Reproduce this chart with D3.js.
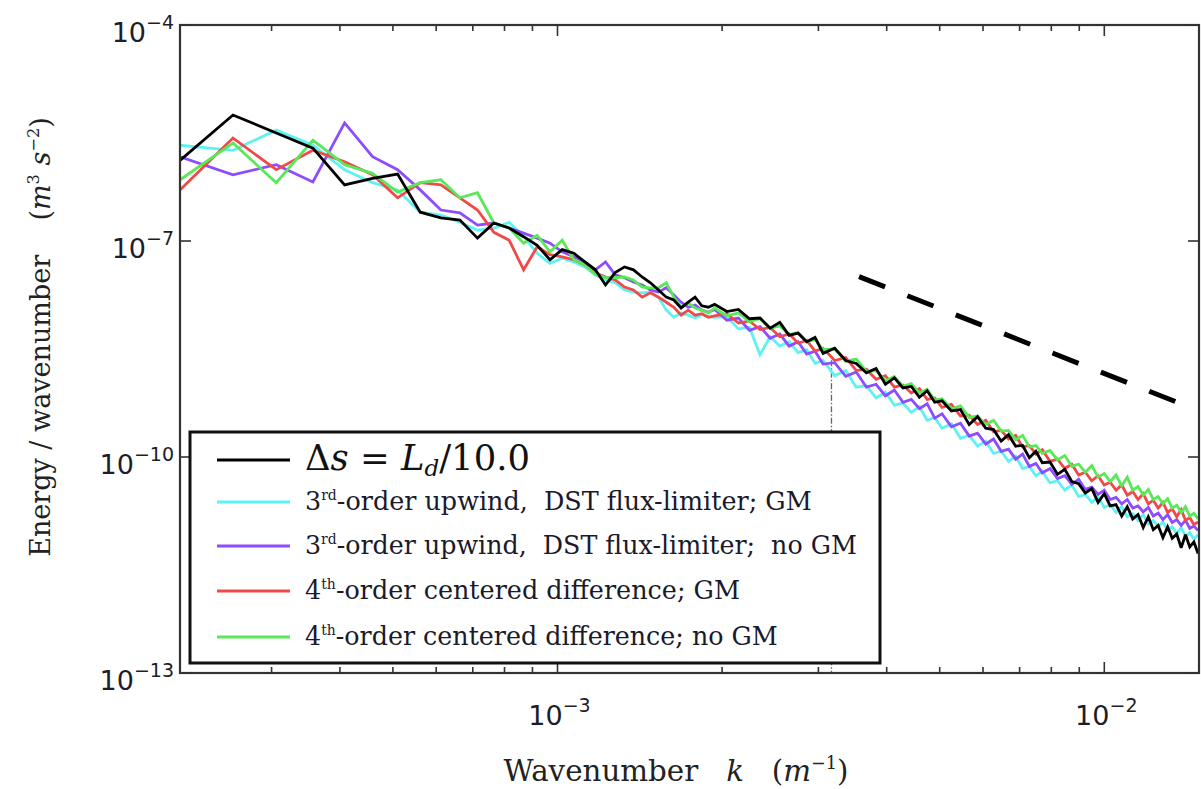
<!DOCTYPE html>
<html>
<head>
<meta charset="utf-8">
<script src="https://cdn.jsdelivr.net/npm/d3@7"></script>
<style>
  body { margin: 0; background: #fff; }
  svg { display: block; }
  text { white-space: pre; }
</style>
</head>
<body>
<svg id="chart" width="1201" height="789"></svg>
<script>
// ---- data -------------------------------------------------------------
// Wavenumber spacing of the spectral modes (1/m); k = mode * modeStep
const modeStep = 5.1e-5;
const modes = [
  4,5,6,7,8,9,10,11,12,13,14,15,16,17,18,19,20,21,22,23,24,25,26,27,28,29,30,31,32,33,34,35,36,37,
  38,40,42,44,46,48,50,52,54,56,58,60,
  63,66,69,72,75,78,81,84,87,90,93,96,99,
  103,107,111,115,119,123,127,131,135,139,143,147,151,
  156,161,166,171,176,181,186,191,196,201,206,211,216,221,226,231,236,241,246,251,256,261,266,271,276,281,286,291
];

// log10 of energy per wavenumber (m^3 s^-2) for each run
const logEReference = [
  -5.88,-5.25,-5.50,-5.71,-6.22,-6.13,-6.07,-6.60,-6.68,-6.71,-6.96,-6.75,-6.82,-6.94,-7.06,-7.26,-7.12,-7.17,-7.29,-7.40,-7.61,-7.44,-7.36,-7.40,-7.50,-7.58,-7.68,-7.78,-7.82,-7.93,-7.85,-7.78,-7.90,-7.92,
  -7.88,-7.98,-7.95,-8.08,-8.07,-8.21,-8.13,-8.31,-8.28,-8.40,-8.34,-8.56,
  -8.49,-8.66,-8.70,-8.83,-8.77,-8.99,-8.90,-9.04,-9.02,-9.17,-9.08,-9.24,-9.22,
  -9.36,-9.34,-9.55,-9.44,-9.60,-9.62,-9.78,-9.69,-9.85,-9.84,-10.01,-9.92,-10.08,
  -10.07,-10.24,-10.17,-10.34,-10.37,-10.50,-10.44,-10.63,-10.51,-10.68,-10.66,-10.82,-10.69,-10.86,-10.80,-10.98,-10.83,-11.01,-10.95,-11.12,-10.97,-11.13,-11.07,-11.26,-11.08,-11.25,-11.18,-11.34
];
const logEUpwindGM = [
  -5.67,-5.74,-5.46,-5.67,-6.01,-6.19,-6.29,-6.60,-6.64,-6.74,-6.85,-6.82,-6.74,-6.94,-7.17,-7.31,-7.24,-7.29,-7.36,-7.47,-7.54,-7.58,-7.68,-7.71,-7.72,-7.71,-7.78,-7.96,-8.06,-8.00,-8.03,-8.07,-8.02,-8.05,
  -8.06,-8.05,-8.22,-8.20,-8.58,-8.33,-8.46,-8.40,-8.55,-8.51,-8.70,-8.66,
  -8.87,-8.80,-9.03,-9.01,-9.18,-9.10,-9.28,-9.25,-9.38,-9.30,-9.49,-9.45,-9.60,
  -9.54,-9.74,-9.70,-9.85,-9.78,-9.95,-9.92,-10.06,-9.99,-10.16,-10.13,-10.26,-10.20,
  -10.36,-10.33,-10.46,-10.39,-10.55,-10.52,-10.63,-10.55,-10.70,-10.66,-10.77,-10.69,-10.83,-10.79,-10.88,-10.80,-10.93,-10.88,-10.97,-10.90,-11.02,-10.97,-11.06,-10.98,-11.10,-11.05,-11.14,-11.08
];
const logEUpwindNoGM = [
  -5.83,-6.08,-5.94,-6.18,-5.36,-5.83,-6.01,-6.29,-6.57,-6.61,-6.78,-6.75,-6.82,-6.89,-6.96,-7.03,-7.15,-7.22,-7.29,-7.40,-7.29,-7.47,-7.51,-7.57,-7.61,-7.68,-7.71,-7.65,-7.75,-7.85,-7.92,-7.89,-7.96,-7.99,
  -7.95,-8.10,-8.07,-8.24,-8.19,-8.35,-8.29,-8.46,-8.40,-8.57,-8.53,-8.71,
  -8.69,-8.88,-8.82,-9.03,-8.99,-9.15,-9.07,-9.24,-9.20,-9.33,-9.26,-9.46,-9.40,
  -9.58,-9.53,-9.71,-9.67,-9.82,-9.75,-9.92,-9.89,-10.03,-9.96,-10.13,-10.09,-10.22,
  -10.16,-10.30,-10.26,-10.38,-10.31,-10.45,-10.42,-10.52,-10.46,-10.59,-10.56,-10.65,-10.59,-10.71,-10.68,-10.76,-10.70,-10.82,-10.78,-10.87,-10.80,-10.91,-10.87,-10.95,-10.88,-10.99,-10.96,-11.02
];
const logECenteredGM = [
  -6.29,-5.57,-6.01,-5.74,-5.90,-6.08,-6.40,-6.19,-6.22,-6.40,-6.57,-6.88,-6.99,-7.40,-7.08,-7.19,-7.22,-7.26,-7.33,-7.44,-7.50,-7.54,-7.64,-7.68,-7.78,-7.72,-7.78,-7.85,-7.92,-8.03,-7.96,-8.03,-8.01,-8.06,
  -8.04,-8.01,-8.14,-8.11,-8.23,-8.20,-8.33,-8.29,-8.42,-8.38,-8.53,-8.49,
  -8.66,-8.62,-8.80,-8.78,-8.92,-8.87,-9.03,-9.00,-9.11,-9.05,-9.20,-9.18,-9.31,
  -9.27,-9.43,-9.42,-9.55,-9.49,-9.65,-9.63,-9.75,-9.70,-9.86,-9.84,-9.96,-9.90,
  -10.06,-10.03,-10.16,-10.10,-10.25,-10.21,-10.33,-10.26,-10.39,-10.35,-10.46,-10.39,-10.53,-10.48,-10.59,-10.51,-10.65,-10.60,-10.71,-10.63,-10.77,-10.72,-10.83,-10.73,-10.88,-10.84,-10.94,-10.90
];
const logECenteredNoGM = [
  -6.15,-5.64,-6.19,-5.60,-5.94,-6.06,-6.32,-6.19,-6.15,-6.40,-6.33,-6.75,-6.82,-7.03,-6.92,-7.15,-6.99,-7.26,-7.33,-7.47,-7.51,-7.51,-7.50,-7.54,-7.64,-7.65,-7.65,-7.58,-7.78,-7.92,-7.86,-7.93,-7.96,-8.00,
  -7.93,-8.04,-8.00,-8.12,-8.08,-8.21,-8.18,-8.30,-8.27,-8.40,-8.37,-8.51,
  -8.50,-8.67,-8.64,-8.81,-8.80,-8.94,-8.88,-9.02,-8.98,-9.11,-9.06,-9.21,-9.19,
  -9.33,-9.29,-9.45,-9.43,-9.55,-9.49,-9.64,-9.63,-9.76,-9.70,-9.86,-9.84,-9.95,
  -9.91,-10.04,-9.98,-10.13,-10.10,-10.21,-10.12,-10.28,-10.23,-10.34,-10.25,-10.40,-10.28,-10.46,-10.41,-10.53,-10.45,-10.59,-10.55,-10.65,-10.58,-10.71,-10.67,-10.77,-10.69,-10.82,-10.78,-10.86
];

// k^-3 reference slope (endpoints)
const slopeK = [3.56e-3, 1.38e-2];
const slopeE = [3.2e-8, 5.5e-10];

// deformation-radius wavenumber marker
const markerK = 3.17e-3;
const markerE = 2.2e-9;

// axis extents and ticks
const kDomain = [2.04e-4, 1.49e-2];
const eDomain = [1e-13, 1e-4];
const xMajorTicks = [1e-3, 1e-2];
const xMinorTicks = [3e-4,4e-4,5e-4,6e-4,7e-4,8e-4,9e-4,2e-3,3e-3,4e-3,5e-3,6e-3,7e-3,8e-3,9e-3];
const yMajorTicks = [1e-13, 1e-10, 1e-7, 1e-4];
const xTickExponents = ["-3", "-2"];
const yTickExponents = ["-13", "-10", "-7", "-4"];

// ---- drawing ----------------------------------------------------------
const series = [
  { name: "upwindGM",     values: logEUpwindGM,     color: "#5ff2f2" },
  { name: "upwindNoGM",   values: logEUpwindNoGM,   color: "#8c4cff" },
  { name: "centeredGM",   values: logECenteredGM,   color: "#f24848" },
  { name: "centeredNoGM", values: logECenteredNoGM, color: "#58e858" },
  { name: "reference",    values: logEReference,    color: "#000000" }
];

const svg = d3.select("#chart");
const plot = { left: 180, right: 1199, top: 25, bottom: 673 };

const x = d3.scaleLog().domain(kDomain).range([plot.left, plot.right]);
const y = d3.scaleLog().domain(eDomain).range([plot.bottom, plot.top]);

svg.append("rect").attr("width", 1201).attr("height", 789).attr("fill", "#fff");

svg.append("defs").append("clipPath").attr("id", "plotClip")
  .append("rect")
  .attr("x", plot.left).attr("y", plot.top)
  .attr("width", plot.right - plot.left).attr("height", plot.bottom - plot.top);

const lines = svg.append("g").attr("clip-path", "url(#plotClip)");

// marker line (mostly hidden behind the legend box)
lines.append("line")
  .attr("x1", x(markerK)).attr("x2", x(markerK))
  .attr("y1", y(markerE)).attr("y2", y(eDomain[0]))
  .attr("stroke", "#666").attr("stroke-width", 1.3)
  .attr("stroke-dasharray", "6,2,1.5,2");

const lineGen = d3.line()
  .x((d, i) => x(modes[i] * modeStep))
  .y(d => y(Math.pow(10, d)));

series.forEach(s => {
  lines.append("path")
    .datum(s.values)
    .attr("d", lineGen)
    .attr("fill", "none")
    .attr("stroke", s.color)
    .attr("stroke-width", 2.8)
    .attr("stroke-linejoin", "miter")
    .attr("stroke-miterlimit", 3);
});

// k^-3 slope guide
lines.append("line")
  .attr("x1", x(slopeK[0])).attr("y1", y(slopeE[0]))
  .attr("x2", x(slopeK[1])).attr("y2", y(slopeE[1]))
  .attr("stroke", "#000").attr("stroke-width", 5)
  .attr("stroke-dasharray", "28,24");

// frame
svg.append("rect")
  .attr("x", plot.left).attr("y", plot.top)
  .attr("width", plot.right - plot.left).attr("height", plot.bottom - plot.top)
  .attr("fill", "none").attr("stroke", "#333").attr("stroke-width", 2.2);

// inward ticks on all four sides
const ticks = svg.append("g").attr("stroke", "#333").attr("stroke-width", 1.6);
function xTick(v, len) {
  ticks.append("line").attr("x1", x(v)).attr("x2", x(v)).attr("y1", plot.bottom).attr("y2", plot.bottom - len);
  ticks.append("line").attr("x1", x(v)).attr("x2", x(v)).attr("y1", plot.top).attr("y2", plot.top + len);
}
xMajorTicks.forEach(v => xTick(v, 11));
xMinorTicks.forEach(v => xTick(v, 6));
yMajorTicks.forEach(v => {
  ticks.append("line").attr("x1", plot.left).attr("x2", plot.left + 11).attr("y1", y(v)).attr("y2", y(v));
  ticks.append("line").attr("x1", plot.right).attr("x2", plot.right - 11).attr("y1", y(v)).attr("y2", y(v));
});

// tick labels: 10 with superscript exponent
const tickFont = "'DejaVu Sans', sans-serif";
function powerLabel(sel, exp) {
  sel.append("tspan").text("10");
  sel.append("tspan").attr("dy", -13).attr("font-size", 19).text(exp.replace("-", "\u2212"));
}
xMajorTicks.forEach((v, i) => {
  const t = svg.append("text")
    .attr("x", x(v) + 2).attr("y", 725)
    .attr("text-anchor", "middle")
    .attr("font-family", tickFont).attr("font-size", 27).attr("fill", "#1c1c2a");
  powerLabel(t, xTickExponents[i]);
});
yMajorTicks.forEach((v, i) => {
  const t = svg.append("text")
    .attr("x", 174).attr("y", y(v) + 17)
    .attr("text-anchor", "end")
    .attr("font-family", tickFont).attr("font-size", 27).attr("fill", "#1c1c2a");
  powerLabel(t, yTickExponents[i]);
});

// scale a text element's font so that it spans the given width
function fitWidth(sel, target) {
  const fs = parseFloat(sel.attr("font-size"));
  const w = sel.node().getComputedTextLength();
  sel.attr("font-size", (fs * target / w).toFixed(2));
}
// raised / lowered small text; shifts are given in units of the parent font
function sup(sel, txt, scale, raise) {
  sel.append("tspan").attr("dy", (-raise / scale).toFixed(3) + "em")
    .attr("font-size", scale + "em").text(txt);
}
function back(sel, txt, raise, style) {
  const t = sel.append("tspan").attr("dy", raise + "em").text(txt);
  if (style) t.attr("font-style", style);
}

// axis titles
const titleFont = "'DejaVu Serif', serif";
const xTitle = svg.append("text")
  .attr("x", 676).attr("y", 781).attr("text-anchor", "middle")
  .attr("font-family", titleFont).attr("font-size", 25).attr("fill", "#222");
xTitle.append("tspan").text("Wavenumber   ");
xTitle.append("tspan").attr("font-style", "italic").text("k");
xTitle.append("tspan").text("   (");
xTitle.append("tspan").attr("font-style", "italic").text("m");
sup(xTitle, "\u22121", 0.6, 0.4);
back(xTitle, ")", 0.4);
fitWidth(xTitle, 345);

const yTitle = svg.append("text")
  .attr("transform", "translate(50,337) rotate(-90)")
  .attr("text-anchor", "middle")
  .attr("font-family", titleFont).attr("font-size", 24).attr("fill", "#222");
yTitle.append("tspan").text("Energy / wavenumber    (");
yTitle.append("tspan").attr("font-style", "italic").text("m");
sup(yTitle, "3", 0.6, 0.4);
back(yTitle, " ", 0.4);
yTitle.append("tspan").attr("font-style", "italic").text("s");
sup(yTitle, "\u22122", 0.6, 0.4);
back(yTitle, ")", 0.4);
fitWidth(yTitle, 440);

// legend
const legend = svg.append("g");
legend.append("rect")
  .attr("x", 190).attr("y", 432).attr("width", 690).attr("height", 231)
  .attr("fill", "#fff").attr("stroke", "#111").attr("stroke-width", 3);

const legendRows = [
  { key: "reference",    y: 460 },
  { key: "upwindGM",     y: 502 },
  { key: "upwindNoGM",   y: 546 },
  { key: "centeredGM",   y: 591 },
  { key: "centeredNoGM", y: 637 }
];
const legendFont = "'DejaVu Serif', serif";
legendRows.forEach(r => {
  const s = series.find(d => d.name === r.key);
  legend.append("line")
    .attr("x1", 217).attr("x2", 290).attr("y1", r.y).attr("y2", r.y)
    .attr("stroke", s.color).attr("stroke-width", 3);
});

function ordinalLabel(rowY, num, suffix, rest, width) {
  const t = legend.append("text")
    .attr("x", 305).attr("y", rowY + 8)
    .attr("font-family", legendFont).attr("font-size", 22).attr("fill", "#1a1a2a");
  t.append("tspan").text(num);
  sup(t, suffix, 0.55, 0.38);
  back(t, rest, 0.38);
  fitWidth(t, width);
}
// first entry: grid spacing in math style
const m = legend.append("text")
  .attr("x", 305).attr("y", 470)
  .attr("font-family", legendFont).attr("font-size", 28).attr("fill", "#111");
m.append("tspan").text("\u0394");
m.append("tspan").attr("font-style", "italic").text("s");
m.append("tspan").text(" = ");
m.append("tspan").attr("font-style", "italic").text("L");
m.append("tspan").attr("dy", (0.16 / 0.65).toFixed(3) + "em").attr("font-size", "0.65em")
  .attr("font-style", "italic").text("d");
back(m, "/10.0", -0.16);
fitWidth(m, 225);

ordinalLabel(502, "3", "rd", "-order upwind,  DST flux-limiter; GM", 507);
ordinalLabel(546, "3", "rd", "-order upwind,  DST flux-limiter;  no GM", 552);
ordinalLabel(591, "4", "th", "-order centered difference; GM", 435);
ordinalLabel(637, "4", "th", "-order centered difference; no GM", 473);
</script>
</body>
</html>
